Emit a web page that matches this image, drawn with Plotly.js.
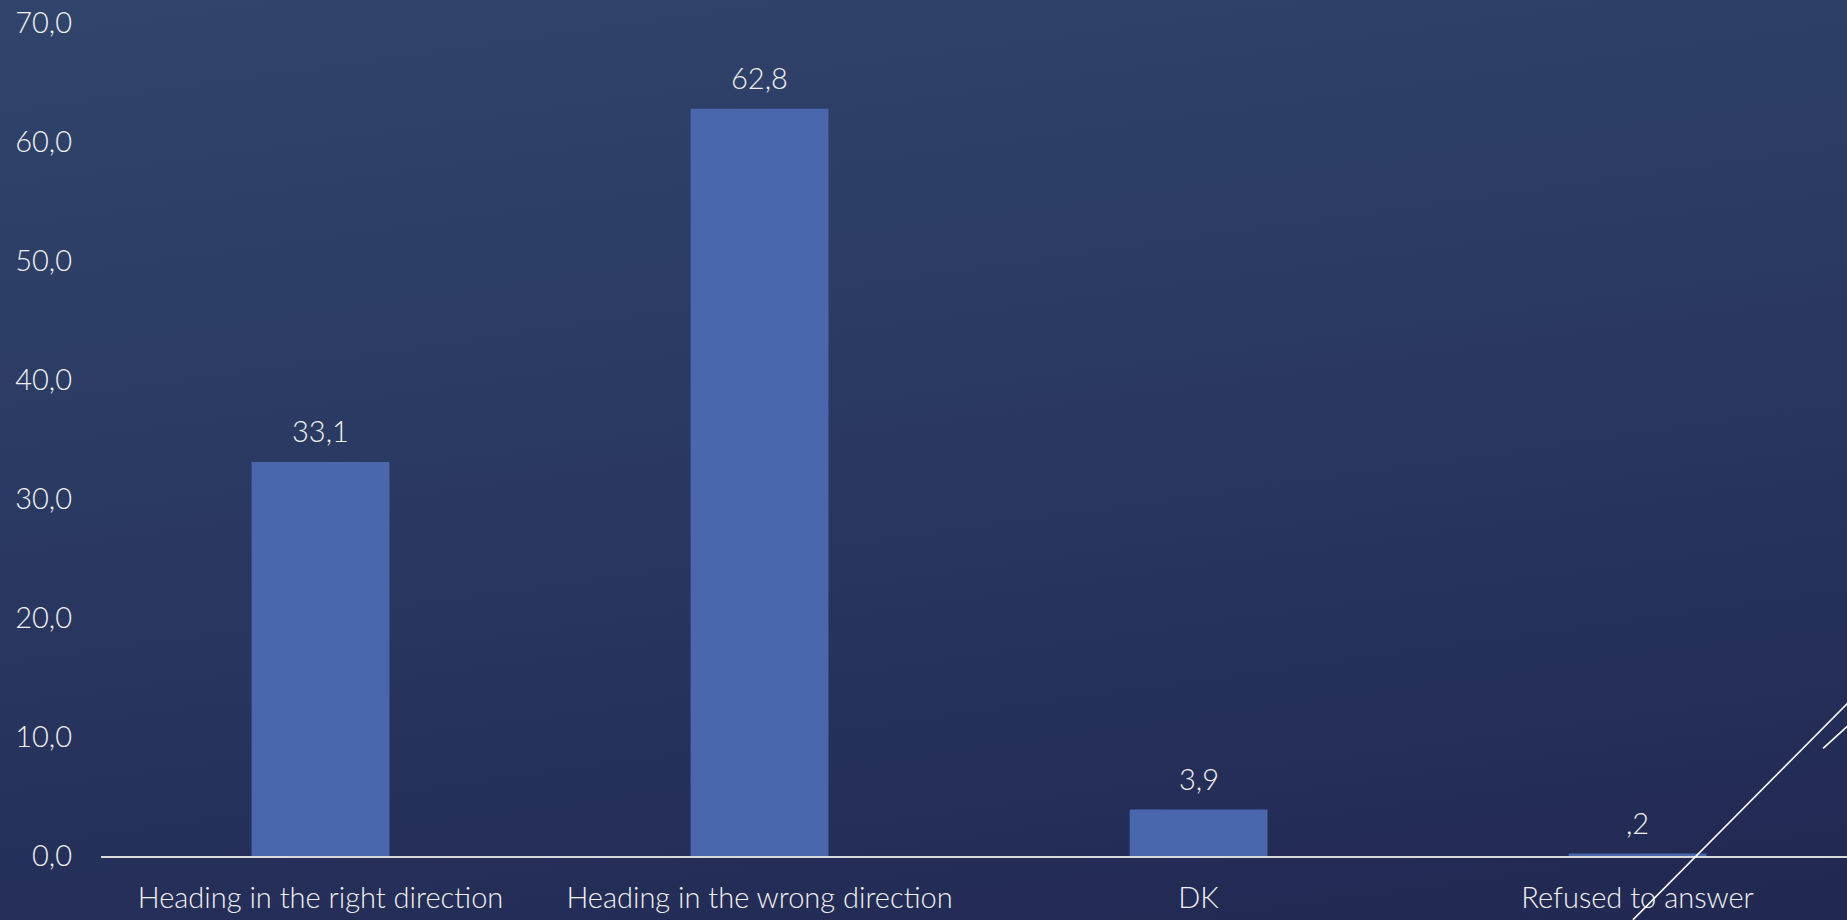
<!DOCTYPE html>
<html>
<head>
<meta charset="utf-8">
<script src="https://cdn.plot.ly/plotly-3.0.1.min.js"></script>
<style>
  html, body { margin: 0; padding: 0; width: 1847px; height: 920px; overflow: hidden; }
  body { background: linear-gradient(172deg, #30446c 0%, #2a3962 45%, #212852 100%); }
  #chart { width: 1847px; height: 920px; }
</style>
</head>
<body>
<div id="chart"></div>
<script>
const categories = ["Heading in the right direction", "Heading in the wrong direction", "DK", "Refused to answer"];
const values = [33.1, 62.8, 3.9, 0.2];
const yTicks = [0, 10, 20, 30, 40, 50, 60, 70];

function fmt(v) {
  let s = v.toFixed(1).replace('.', ',');
  if (s.startsWith('0,') && v !== 0) s = s.slice(1);
  return s;
}

const FONT = "Lato, 'Open Sans', sans-serif";
const TXT = "#f2f2f2";
const FS = 29;

const trace = {
  type: 'bar',
  x: categories,
  y: values,
  width: 0.314,
  marker: { color: '#4a67ae' },
  hoverinfo: 'skip'
};

const annotations = categories.map((c, i) => ({
  x: c, y: values[i], xref: 'x', yref: 'y',
  text: fmt(values[i]), showarrow: false,
  yanchor: 'bottom', yshift: 12,
  font: { family: FONT, size: FS, color: TXT, weight: 300 }
}));

const layout = {
  width: 1847, height: 920,
  margin: { l: 101, r: 0, t: 23, b: 64 },
  paper_bgcolor: 'rgba(0,0,0,0)',
  plot_bgcolor: 'rgba(0,0,0,0)',
  separators: ', ',
  showlegend: false,
  xaxis: {
    type: 'category',
    range: [-0.5, 3.477],
    showgrid: false, zeroline: false,
    showline: true, linecolor: '#d9d9d9', linewidth: 2,
    ticks: '', ticklabelstandoff: 15,
    tickfont: { family: FONT, size: FS, color: TXT, weight: 300 },
    fixedrange: true
  },
  yaxis: {
    range: [0, 70],
    tickvals: yTicks,
    tickformat: '.1f',
    showgrid: false, zeroline: false, showline: false,
    ticks: '', ticklabelstandoff: 28,
    tickfont: { family: FONT, size: FS, color: TXT, weight: 300 },
    fixedrange: true
  },
  annotations: annotations,
  shapes: [
    { type: 'line', xref: 'paper', yref: 'paper', x0: 0.8774, y0: -0.0766, x1: 1.02, y1: 0.225,
      line: { color: '#ffffff', width: 1.6 } },
    { type: 'line', xref: 'paper', yref: 'paper', x0: 0.9863, y0: 0.1292, x1: 1.02, y1: 0.1936,
      line: { color: '#ffffff', width: 1.6 } }
  ]
};

Plotly.newPlot('chart', [trace], layout, { displayModeBar: false, staticPlot: true });
</script>
</body>
</html>
